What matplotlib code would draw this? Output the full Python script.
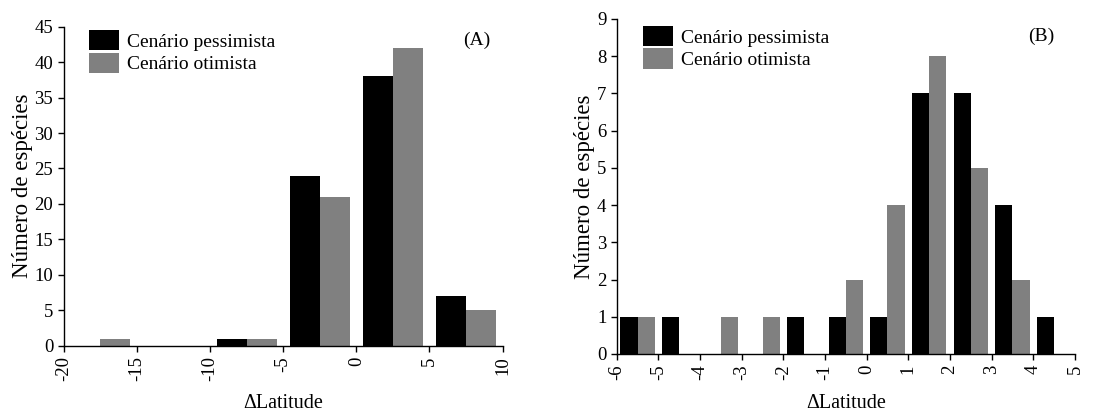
import matplotlib.pyplot as plt
import numpy as np

plt.rcParams['font.family'] = ['Liberation Serif', 'DejaVu Serif']

# panel A: bins of 5 degrees
centers_a = [-17.5, -12.5, -7.5, -2.5, 2.5, 7.5]
pess_a = [0, 0, 1, 24, 38, 7]
otim_a = [1, 0, 1, 21, 42, 5]

# panel B: bins of 1 degree
centers_b = [-5.5, -4.5, -3.5, -2.5, -1.5, -0.5, 0.5, 1.5, 2.5, 3.5, 4.5]
pess_b = [1, 1, 0, 0, 1, 1, 1, 7, 7, 4, 1]
otim_b = [1, 0, 1, 1, 0, 2, 4, 8, 5, 2, 0]

labels = ['Cenário pessimista', 'Cenário otimista']
black = '#000000'
gray = '#808080'

fig = plt.figure(figsize=(11.15, 4.12), dpi=100)
ax1 = fig.add_axes([0.0571, 0.1609, 0.3937, 0.7743])
ax2 = fig.add_axes([0.5531, 0.1408, 0.4110, 0.8131])


def panel(ax, centers, pess, otim, binw, xlim, xticks, ylim, yticks, tag, tagpos, legpos):
    w = 0.41 * binw
    # black bar left of bin centre, grey bar right of it
    ax.bar(centers, pess, width=-w, align='edge', color=black, label=labels[0])
    ax.bar(centers, otim, width=w, align='edge', color=gray, label=labels[1])
    ax.set_xlim(*xlim)
    ax.set_ylim(*ylim)
    ax.set_xticks(xticks)
    ax.set_yticks(yticks)
    ax.set_xticklabels([str(t) for t in xticks], rotation=90)
    ax.tick_params(direction='out', length=4, width=1, labelsize=13.5, colors='black')
    for s in ['top', 'right']:
        ax.spines[s].set_visible(False)
    for s in ['left', 'bottom']:
        ax.spines[s].set_linewidth(1)
    ax.set_ylabel('Número de espécies', fontsize=16.5)
    ax.set_xlabel('\u0394Latitude', fontsize=14.5)
    ax.text(tagpos[0], tagpos[1], tag, transform=ax.transAxes, ha='right', va='center', fontsize=14)
    ax.legend(loc='upper left', bbox_to_anchor=legpos, frameon=False, fontsize=14,
              handlelength=1.55, handleheight=1.25, handletextpad=0.4, labelspacing=0.1,
              borderaxespad=0, borderpad=0)


panel(ax1, centers_a, pess_a, otim_a, 5, (-20, 10), list(range(-20, 11, 5)),
      (0, 45), list(range(0, 46, 5)), '(A)', (0.971, 0.958), (0.057, 0.99))
panel(ax2, centers_b, pess_b, otim_b, 1, (-6, 5), list(range(-6, 6)),
      (0, 9), list(range(0, 10)), '(B)', (0.956, 0.947), (0.058, 0.98))

ax1.yaxis.set_label_coords(-0.07, 0.5)
ax1.xaxis.set_label_coords(0.5, -0.15)
ax2.yaxis.set_label_coords(-0.048, 0.5)
ax2.xaxis.set_label_coords(0.5, -0.12)

fig.savefig('out.png', dpi=100)
